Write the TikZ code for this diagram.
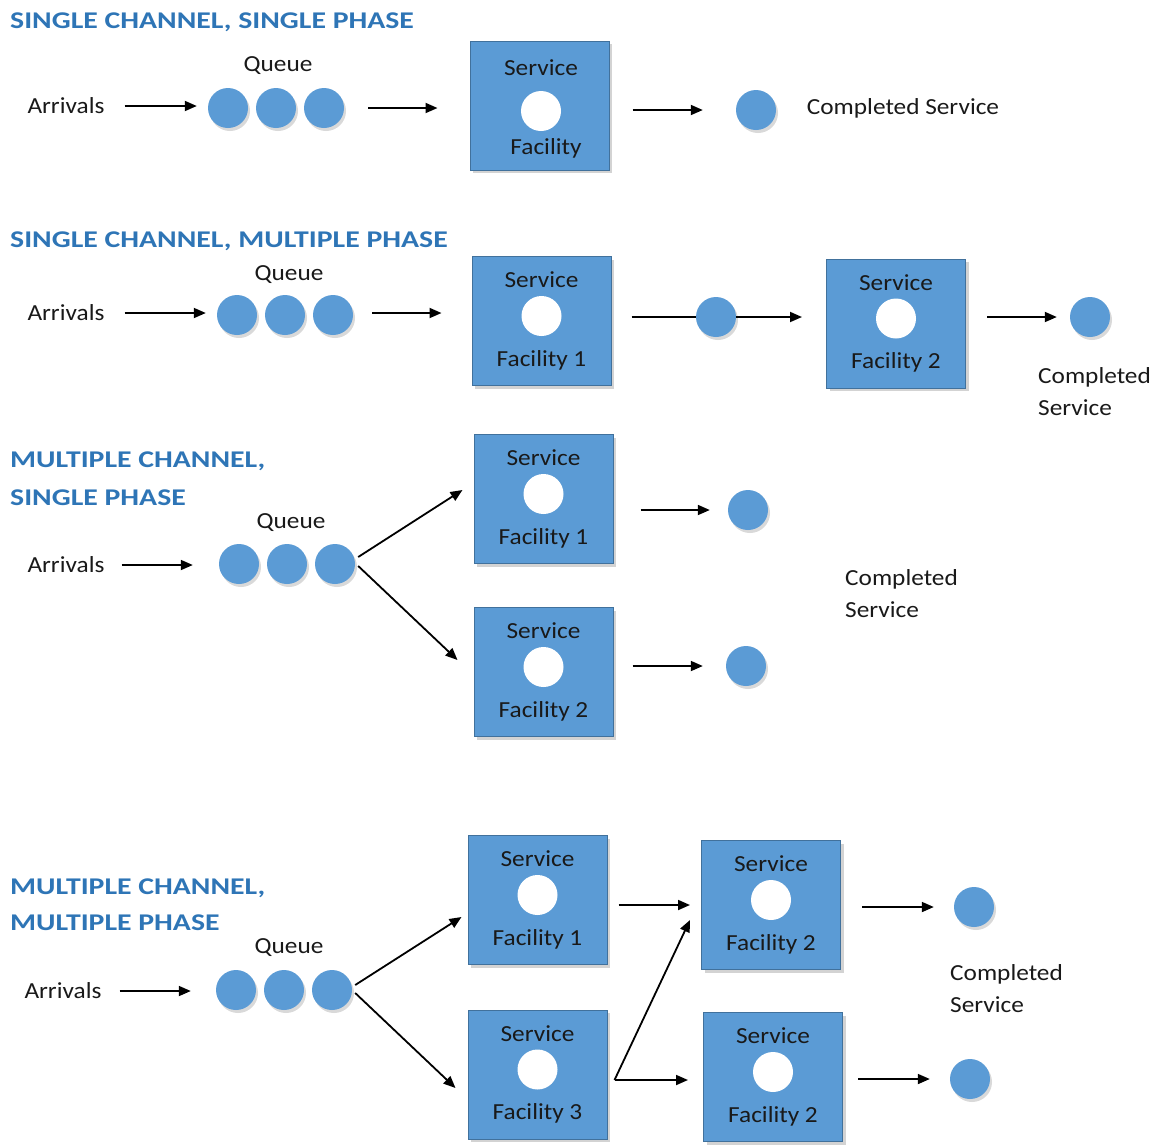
\documentclass[tikz,border=0pt]{standalone}
\usepackage{fontspec}
\setmainfont{Carlito}
\usetikzlibrary{arrows.meta,shadows,calc}
\definecolor{hdrblue}{RGB}{46,117,182}
\definecolor{qblue}{RGB}{91,155,213}
\definecolor{bdr}{RGB}{65,113,156}
\definecolor{txt}{RGB}{25,25,25}
\newcommand\hx[1]{\scalebox{1.24}[1]{#1}}
\newcommand\tx[1]{\scalebox{1.1}[1]{#1}}
% name, cx, cy, second line
\newcommand\facility[4]{%
  \node[fac] (#1) at (#2,#3) {};
  \node[lbl] (#1s) at (#2,{#3-41}) {\tx{Service}};
  \node[hole] (#1h) at (#2,{#3-5}) {};
  \node[lbl] (#1f) at (#2,{#3+39}) {\tx{#4}};
}
\begin{document}
\begin{tikzpicture}[x=1pt,y=-1pt,
  hdr/.style={anchor=base west,inner sep=0,font=\fontsize{24}{28}\selectfont\bfseries,text=hdrblue},
  lbl/.style={inner sep=0,font=\fontsize{23}{32}\selectfont,text=txt},
  dot/.style={circle,fill=qblue,minimum size=40pt,inner sep=0,
    drop shadow={opacity=0.3,shadow xshift=2pt,shadow yshift=-3pt}},
  hole/.style={circle,fill=white,minimum size=40pt,inner sep=0},
  fac/.style={draw=bdr,line width=1pt,fill=qblue,minimum width=139pt,minimum height=129pt,inner sep=0,
    drop shadow={opacity=0.35,shadow xshift=3pt,shadow yshift=-3pt}},
  arr/.style={-{Triangle[length=12pt,width=10pt]},line width=1.8pt},
  ln/.style={line width=1.8pt}]
\useasboundingbox (0,0) rectangle (1164,1144);

% ---------------- Section 1 ----------------
\node[hdr] (h1) at (10,28) {\hx{SINGLE CHANNEL, SINGLE PHASE}};
\node[lbl] (qu1) at (278,66) {\tx{Queue}};
\node[lbl] (a1) at (66,106) {\tx{Arrivals}};
\node[dot] (q1a) at (228,108) {};
\node[dot] (q1b) at (276,108) {};
\node[dot] (q1c) at (324,108) {};
\node[fac] (b1) at (539.5,105.5) {};
\node[lbl] (b1s) at (541,68) {\tx{Service}};
\node[hole] (b1h) at (541,111) {};
\node[lbl] (b1f) at (546,148) {\tx{Facility}};
\node[dot] (o1) at (756,110) {};
\node[lbl] (c1) at (903,108) {\tx{Completed Service}};
\draw[arr,shorten <=20pt,shorten >=11pt] (a1.east) -- (a1.east -| q1a.west);
\draw[arr,shorten <=24pt,shorten >=32pt] (q1c.east) -- (q1c.east -| b1.west);
\draw[arr,shorten <=23pt,shorten >=33pt] (b1.east |- o1.west) -- (o1.west);

% ---------------- Section 2 ----------------
\node[hdr] (h2) at (10,247) {\hx{SINGLE CHANNEL, MULTIPLE PHASE}};
\node[lbl] (qu2) at (289,275) {\tx{Queue}};
\node[lbl] (a2) at (66,313) {\tx{Arrivals}};
\node[dot] (q2a) at (237,315) {};
\node[dot] (q2b) at (285,315) {};
\node[dot] (q2c) at (333,315) {};
\facility{b21}{541.5}{321}{Facility 1}
\node[dot] (m2) at (716,317) {};
\facility{b22}{896}{323.5}{Facility 2}
\node[dot] (o2) at (1090,317) {};
\node[lbl,align=left,anchor=west] (c2) at (1038,392) {\tx{Completed}\\\tx{Service}};
\draw[arr,shorten <=20pt,shorten >=11pt] (a2.east) -- (a2.east -| q2a.west);
\draw[arr,shorten <=19pt,shorten >=30pt] (q2c.east |- a2.east) -- (a2.east -| b21.west);
\draw[ln,shorten <=20pt] (b21.east |- m2.west) -- (m2.west);
\draw[arr,shorten >=24pt] (m2.east) -- (m2.east -| b22.west);
\draw[arr,shorten <=21pt,shorten >=13pt] (b22.east |- o2.west) -- (o2.west);

% ---------------- Section 3 ----------------
\node[hdr] (h3a) at (10,467) {\hx{MULTIPLE CHANNEL,}};
\node[hdr] (h3b) at (10,505) {\hx{SINGLE PHASE}};
\node[lbl] (qu3) at (291,523) {\tx{Queue}};
\node[lbl] (a3) at (66,565) {\tx{Arrivals}};
\node[dot] (q3a) at (239,564) {};
\node[dot] (q3b) at (287,564) {};
\node[dot] (q3c) at (335,564) {};
\facility{b31}{543.5}{499}{Facility 1}
\facility{b32}{543.5}{672}{Facility 2}
\node[dot] (o31) at (748,510) {};
\node[dot] (o32) at (746,666) {};
\node[lbl,align=left,anchor=west] (c3) at (845,594) {\tx{Completed}\\\tx{Service}};
\draw[arr,shorten <=17pt,shorten >=26pt] (a3.east) -- (a3.east -| q3a.west);
\draw[arr] ([xshift=3pt,yshift=7pt]q3c.east) -- ([xshift=-11pt,yshift=9pt]b31.west);
\draw[arr] ([xshift=3pt,yshift=-2pt]q3c.east) -- ([xshift=-16pt,yshift=12pt]b32.west);
\draw[arr,shorten <=27pt,shorten >=18pt] (b31.east |- o31.west) -- (o31.west);
\draw[arr,shorten <=19pt,shorten >=23pt] (b32.east |- o32.west) -- (o32.west);

% ---------------- Section 4 ----------------
\node[hdr] (h4a) at (10,894) {\hx{MULTIPLE CHANNEL,}};
\node[hdr] (h4b) at (10,930) {\hx{MULTIPLE PHASE}};
\node[lbl] (qu4) at (289,948) {\tx{Queue}};
\node[lbl] (a4) at (63,991) {\tx{Arrivals}};
\node[dot] (q4a) at (236,990) {};
\node[dot] (q4b) at (284,990) {};
\node[dot] (q4c) at (332,990) {};
\facility{f41}{537.5}{900}{Facility 1}
\facility{f43}{537.5}{1074.5}{Facility 3}
\facility{f42t}{771}{905}{Facility 2}
\facility{f42b}{773}{1077}{Facility 2}
\node[dot] (o41) at (974,907) {};
\node[dot] (o42) at (970,1079) {};
\node[lbl,align=left,anchor=west] (c4) at (950,989) {\tx{Completed}\\\tx{Service}};
\coordinate (sp) at ([xshift=7pt,yshift=-5.5pt]f43.east);
\draw[arr,shorten <=18pt,shorten >=25pt] (a4.east) -- (a4.east -| q4a.west);
\draw[arr] ([xshift=3pt,yshift=5pt]q4c.east) -- ([xshift=-6pt,yshift=-17pt]f41.west);
\draw[arr] ([xshift=3pt,yshift=-3pt]q4c.east) -- ([xshift=-12pt,yshift=-13.5pt]f43.west);
\draw[arr,shorten <=11pt,shorten >=11pt] (f41.east |- f42t.west) -- (f42t.west);
\draw[arr] (sp) -- ([xshift=-11pt,yshift=-15pt]f42t.west);
\draw[arr,shorten >=15pt] (sp) -- (sp -| f42b.west);
\draw[arr,shorten <=21pt,shorten >=20pt] (f42t.east |- o41.west) -- (o41.west);
\draw[arr,shorten <=15pt,shorten >=20pt] (f42b.east |- o42.west) -- (o42.west);
\end{tikzpicture}
\end{document}
